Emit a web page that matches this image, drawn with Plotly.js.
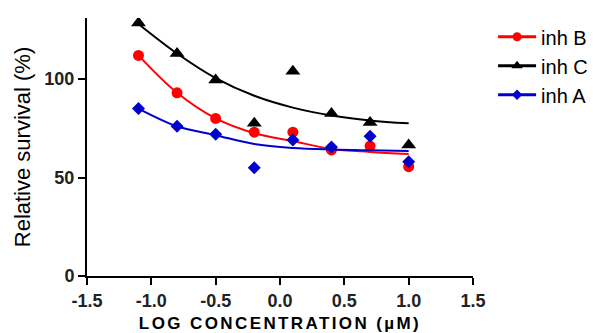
<!DOCTYPE html>
<html>
<head>
<meta charset="utf-8">
<script src="https://cdn.plot.ly/plotly-3.0.1.min.js"></script>
<style>html,body{margin:0;padding:0;background:#fff;}#chart{width:593px;height:333px;}</style>
</head>
<body>
<div id="chart"></div>
<script>
// Observed data (log concentration, µM)
const doseX = [-1.1, -0.8, -0.5, -0.2, 0.1, 0.4, 0.7, 1.0];
const inhB = [112, 93, 80, 73, 73, 64, 66, 55.5];
const inhC = [128.5, 113, 99.5, 77.5, 104, 82.5, 78, 66.5];
const inhA = [85, 76, 72, 55, 69, 65.5, 71, 58];

// Fitted curves
const fitX = [-1.1, -0.8, -0.5, -0.2, 0.1, 0.4, 0.7, 1.0];
const fitB = [112, 93, 80, 72.5, 68.5, 64.5, 63, 62];
const fitC = [128, 113, 100.5, 91.5, 85.5, 81.5, 79, 77.5];
const fitA = [85, 76, 71.5, 67, 65, 64.2, 63.8, 63.5];

const xTickVals = [-1.5, -1.0, -0.5, 0.0, 0.5, 1.0, 1.5];
const xTickText = ['-1.5', '-1.0', '-0.5', '0.0', '0.5', '1.0', '1.5'];
const yTickVals = [0, 50, 100];
const yTickText = ['0', '50', '100'];

const series = [
  {name: 'inh B', y: inhB, fit: fitB, color: '#ff0000', symbol: 'circle', size: 11, lsize: 9},
  {name: 'inh C', y: inhC, fit: fitC, color: '#000000', symbol: 'triangle-up', size: 13, lsize: 10},
  {name: 'inh A', y: inhA, fit: fitA, color: '#0000cc', symbol: 'diamond', size: 10, lsize: 8}
];

const traces = [];
series.forEach((s, i) => {
  traces.push({x: fitX, y: s.fit, mode: 'lines', line: {color: s.color, width: 2, shape: 'spline', smoothing: 1},
    showlegend: false, hoverinfo: 'skip'});
  traces.push({x: doseX, y: s.y, mode: 'markers', marker: {color: s.color, symbol: s.symbol, size: s.size},
    showlegend: false});
  traces.push({x: [null], y: [null], mode: 'lines+markers', name: s.name, legendgroup: 'g' + i,
    line: {color: s.color, width: 3}, marker: {color: s.color, symbol: s.symbol, size: s.lsize}});
});

const font = 'Liberation Sans, Arial, sans-serif';
const layout = {
  width: 593, height: 333,
  margin: {l: 87, r: 120, t: 18, b: 57, autoexpand: false},
  paper_bgcolor: '#fff', plot_bgcolor: '#fff',
  font: {family: font, color: '#000'},
  xaxis: {
    range: [-1.5, 1.5], showgrid: false, zeroline: false,
    showline: true, linecolor: '#000', linewidth: 2,
    ticks: 'outside', ticklen: 7, tickwidth: 2, tickcolor: '#000',
    tickvals: xTickVals, ticktext: xTickText,
    tickfont: {size: 18, family: font, weight: 'bold', color: '#222'},
    title: {text: '<span style="letter-spacing:2.4px">LOG CONCENTRATION (µM)</span>', font: {size: 17, family: font, weight: 'bold', color: '#000'}, standoff: 8}
  },
  yaxis: {
    range: [0, 131], showgrid: false, zeroline: false,
    showline: true, linecolor: '#000', linewidth: 2,
    ticks: 'outside', ticklen: 7, tickwidth: 2, tickcolor: '#000',
    tickvals: yTickVals, ticktext: yTickText,
    tickfont: {size: 18, family: font, weight: 'bold', color: '#222'},
    title: {text: 'Relative survival (%)', font: {size: 22, family: font, color: '#000'}, standoff: 8}
  },
  legend: {
    x: 1.052, y: 1.003, xanchor: 'left', yanchor: 'top', xref: 'paper', yref: 'paper',
    font: {size: 20, family: font, color: '#000'},
    traceorder: 'grouped', tracegroupgap: 0, itemwidth: 38,
    bgcolor: 'rgba(0,0,0,0)', borderwidth: 0
  },
  showlegend: true
};

Plotly.newPlot('chart', traces, layout, {displayModeBar: false, staticPlot: true});
</script>
</body>
</html>
